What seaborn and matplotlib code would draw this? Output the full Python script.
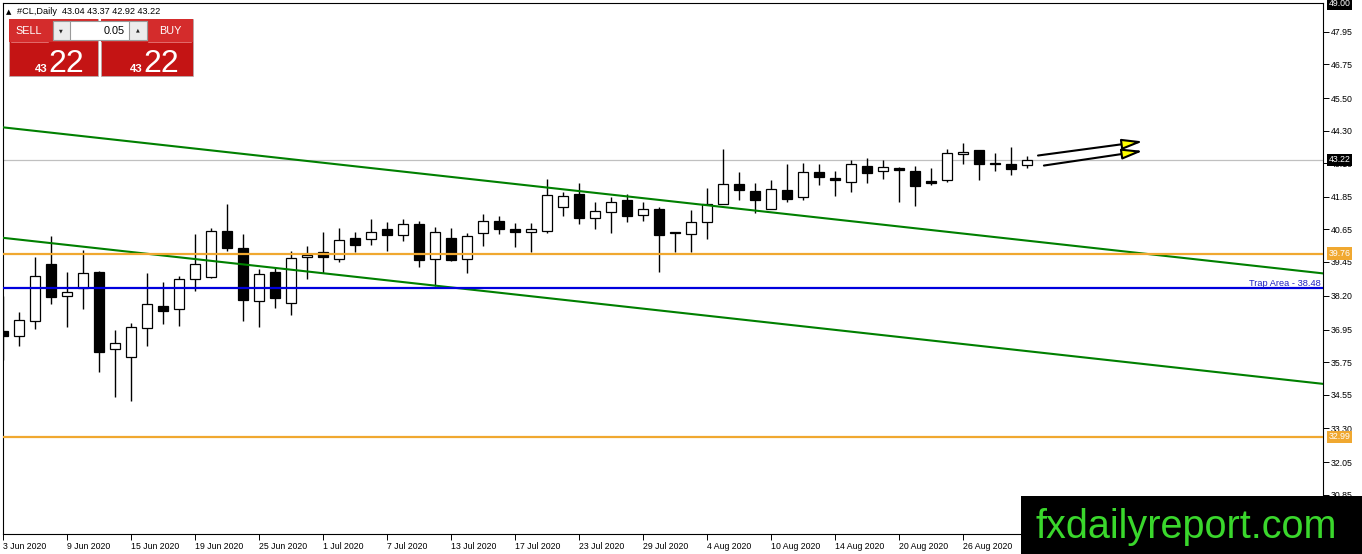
import numpy as np
import pandas as pd
import matplotlib
matplotlib.use("Agg")
import matplotlib.pyplot as plt
import seaborn as sns
from matplotlib.patches import Rectangle
import matplotlib.transforms as mtransforms

sns.set_style("white")
plt.rcParams['font.family'] = ['Liberation Sans', 'DejaVu Sans']

# ---------------- data ----------------
dates = pd.bdate_range("2020-06-03", "2020-09-01")   # 65 daily bars
opens = [36.89, 36.71, 37.25, 39.38, 38.18, 38.47, 39.09, 36.23, 35.94, 37.01,
         37.83, 37.71, 38.82, 38.91, 40.59, 39.96, 38.00, 39.09, 37.92, 39.62,
         39.82, 39.55, 40.33, 40.29, 40.66, 40.44, 40.86, 39.55, 40.33, 39.55,
         40.51, 40.96, 40.66, 40.55, 40.60, 41.47, 41.97, 41.06, 41.31, 41.74,
         41.17, 41.41, 40.56, 40.48, 40.92, 41.58, 42.33, 42.08, 41.42, 42.11,
         41.84, 42.78, 42.54, 42.42, 43.00, 42.80, 42.91, 42.80, 42.44, 42.46,
         43.43, 43.58, 43.11, 43.07, 43.04]
highs = [38.18, 37.60, 39.64, 40.42, 39.07, 39.89, 39.12, 36.93, 37.19, 39.04,
         38.71, 38.92, 40.49, 40.69, 41.60, 40.49, 39.19, 39.26, 39.86, 40.05,
         40.56, 40.70, 40.57, 41.04, 40.92, 41.04, 40.98, 40.73, 40.70, 40.51,
         41.23, 41.14, 40.88, 40.88, 42.51, 42.03, 42.36, 41.66, 41.84, 41.95,
         41.66, 41.47, 40.56, 41.37, 42.17, 43.63, 42.78, 42.36, 42.48, 43.07,
         43.12, 43.07, 42.80, 43.22, 43.28, 43.20, 42.97, 43.00, 42.91, 43.61,
         43.84, 43.58, 43.49, 43.69, 43.37]
lows = [35.84, 36.33, 36.98, 37.91, 37.03, 37.70, 35.37, 34.45, 34.30, 36.33,
        37.14, 37.07, 38.36, 38.87, 39.84, 37.25, 37.03, 37.73, 37.48, 38.82,
        39.04, 39.43, 39.81, 40.08, 39.87, 40.23, 39.25, 38.55, 39.47, 39.03,
        40.05, 40.48, 39.99, 39.80, 40.51, 41.13, 40.85, 40.67, 40.51, 40.92,
        40.97, 39.06, 39.80, 39.80, 40.29, 41.58, 41.74, 41.25, 41.42, 41.65,
        41.72, 42.30, 41.87, 42.05, 42.38, 42.52, 41.65, 41.50, 42.30, 42.42,
        43.05, 42.46, 42.79, 42.65, 42.92]
closes = [36.70, 37.30, 38.93, 38.14, 38.34, 39.04, 36.11, 36.45, 37.06, 37.90,
          37.64, 38.82, 39.37, 40.59, 39.95, 38.03, 39.00, 38.10, 39.59, 39.70,
          39.65, 40.25, 40.06, 40.55, 40.43, 40.85, 39.51, 40.56, 39.53, 40.40,
          40.96, 40.67, 40.54, 40.66, 41.92, 41.87, 41.06, 41.33, 41.68, 41.13,
          41.40, 40.43, 40.51, 40.92, 41.60, 42.33, 42.09, 41.72, 42.14, 41.79,
          42.76, 42.57, 42.46, 43.07, 42.72, 42.95, 42.84, 42.27, 42.38, 43.49,
          43.51, 43.06, 43.05, 42.90, 43.22]

# trend channel anchors (bar index, price)
trend_x = [-1, 84]
trend_upper = [44.485, 38.93]
trend_lower = [40.405, 34.85]

level_orange = [39.76, 32.99]
level_trap = 38.48
last_price = 43.22
chart_high = 49.00

ytick_vals = [47.95, 46.75, 45.50, 44.30, 43.10, 41.85, 40.65, 39.45, 38.20,
              36.95, 35.75, 34.55, 33.30, 32.05, 30.85]

# forecast arrows (start bar, start price, end bar, end price)
arrow_start_x = [64.7, 65.07]
arrow_start_y = [43.38, 43.01]
arrow_end_x = [71.26, 71.26]
arrow_end_y = [43.90, 43.55]

header_text = "#CL,Daily  43.04 43.37 42.92 43.22"

# ---------------- figure ----------------
W, H = 1362, 554
fig = plt.figure(figsize=(W / 100, H / 100), dpi=100)
fig.patch.set_facecolor("white")
ax_left, ax_right, ax_top, ax_bot = 3, 1322.7, 3, 533.5
ax = fig.add_axes([ax_left / W, 1 - ax_bot / H, (ax_right - ax_left) / W, (ax_bot - ax_top) / H])
ax.set_facecolor("white")

idx = np.arange(len(dates))
o = np.array(opens); c = np.array(closes)
hi = np.array(highs); lo = np.array(lows)

ax.axhline(last_price, color="#c0c0c0", lw=0.9, zorder=1)

ax.vlines(idx, lo, hi, color="black", lw=1.0, zorder=2)
bottoms = np.minimum(o, c)
heights = np.maximum(np.abs(c - o), 0.03)
body_col = ["white" if cc >= oo else "black" for oo, cc in zip(o, c)]
ax.bar(idx, heights, bottom=bottoms, width=0.62, color=body_col,
       edgecolor="black", linewidth=0.9, zorder=3)

sns.lineplot(x=trend_x, y=trend_upper, color="#008000", lw=1.5, ax=ax, zorder=4)
sns.lineplot(x=trend_x, y=trend_lower, color="#008000", lw=1.5, ax=ax, zorder=4)
for lv in level_orange:
    ax.axhline(lv, color="#f0a830", lw=1.6, zorder=4)
ax.axhline(level_trap, color="#0000dd", lw=1.6, zorder=4)

for sx, sy, ex, ey in zip(arrow_start_x, arrow_start_y, arrow_end_x, arrow_end_y):
    ax.annotate("", xy=(ex, ey), xytext=(sx, sy),
                arrowprops=dict(arrowstyle="-|>,head_length=1.25,head_width=0.32",
                                fc="#ffff00", ec="black", lw=1.5,
                                shrinkA=0, shrinkB=0), zorder=5)

ax.set_xlim(-0.0125, 82.5)
ax.set_ylim(29.42, 49.013)

# axes styling
for sp in ax.spines.values():
    sp.set_visible(True)
    sp.set_color("black")
    sp.set_linewidth(0.8)

ax.yaxis.tick_right()
ax.set_yticks(ytick_vals)
ax.set_yticklabels([f"{v:.2f}" for v in ytick_vals])
ax.tick_params(axis="y", length=4, width=0.7, pad=2, labelsize=6.3,
               direction="out", colors="black", right=True, left=False)

xt = idx[:61:4]
ax.set_xticks(xt)
ax.set_xticklabels([f"{dates[i].day} {dates[i].strftime('%b %Y')}" for i in xt])
ax.tick_params(axis="x", length=4, width=0.7, pad=2, labelsize=6.3,
               direction="out", colors="black", bottom=True)
for lbl in ax.get_xticklabels():
    lbl.set_horizontalalignment("left")
ax.set_xlabel(""); ax.set_ylabel("")

trans = mtransforms.blended_transform_factory(ax.transAxes, ax.transData)
for val, fc in [(chart_high, "black"), (last_price, "black"),
                (level_orange[0], "#f0a830"), (level_orange[1], "#f0a830")]:
    ax.text(1.0045, val, f"{val:.2f}", transform=trans, ha="left", va="center",
            fontsize=6.3, color="white", zorder=6, clip_on=False,
            bbox=dict(boxstyle="square,pad=0.2", fc=fc, ec="none"))

ax.annotate(f"Trap Area - {level_trap:.2f}", xy=(0.9985, level_trap), xycoords=trans,
            xytext=(0, 1.5), textcoords="offset points", ha="right", va="baseline",
            fontsize=6.7, color="#2020c0", zorder=6)

# ---------------- overlay (panel + watermark) ----------------
ov = fig.add_axes([0, 0, 1, 1], zorder=10)
ov.set_xlim(0, W); ov.set_ylim(H, 0)
ov.axis("off")
ov.patch.set_alpha(0)

ov.text(6, 11.7, "\u25b2", fontsize=5, va="center", ha="left", color="black",
        family=["DejaVu Sans"])
ov.text(17, 11.7, header_text, fontsize=6.6, va="center", ha="left", color="black")

for x0 in (9, 101):
    ov.add_patch(Rectangle((x0, 19), 89 if x0 == 9 else 92, 57, fc="#c41414", ec="#b0b0b0", lw=0.5))
    ov.add_patch(Rectangle((x0, 19), 89 if x0 == 9 else 92, 23, fc="#d42c2c", ec="none"))
ov.plot([11, 48], [41.5, 41.5], color="#e77a7a", lw=0.6)
ov.plot([148, 191], [41.5, 41.5], color="#e77a7a", lw=0.6)

ov.add_patch(Rectangle((52.7, 20.7), 94, 19.3, fc="white", ec="#9a9a9a", lw=0.8))
ov.add_patch(Rectangle((52.7, 20.7), 17.3, 19.3, fc="#ececec", ec="#9a9a9a", lw=0.8))
ov.add_patch(Rectangle((129.3, 20.7), 17.4, 19.3, fc="#ececec", ec="#9a9a9a", lw=0.8))
ov.text(61.3, 30.5, "\u25bc", fontsize=3.5, ha="center", va="center", family=["DejaVu Sans"])
ov.text(138, 30.0, "\u25b2", fontsize=3.5, ha="center", va="center", family=["DejaVu Sans"])
ov.text(125, 30.7, "0.05", fontsize=7.8, ha="right", va="center", color="black")

ov.text(15, 30.7, "SELL", fontsize=7.8, ha="left", va="center", color="white")
ov.text(159, 30.7, "BUY", fontsize=7.8, ha="left", va="center", color="white")
for xs, xb in ((35, 48.5), (129.5, 143)):
    ov.text(xs, 71.5, "43", fontsize=8.2, ha="left", va="baseline", color="white", weight="bold")
    ov.text(xb, 72, "22", fontsize=23, ha="left", va="baseline", color="white")

ov.add_patch(Rectangle((1021, 496), 341, 58, fc="black", ec="none"))
ov.text(1036, 538, "fxdailyreport.com", fontsize=28.5, ha="left", va="baseline",
        color="#3ad72c")

fig.savefig("out.png", dpi=100, facecolor="white")
